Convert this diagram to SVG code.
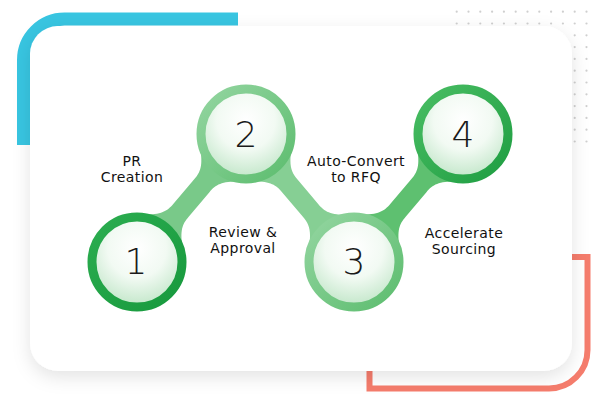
<svg xmlns="http://www.w3.org/2000/svg" width="602" height="405" viewBox="0 0 602 405">
<defs>
<style>
.lbl{font-family:"DejaVu Sans","Liberation Sans",sans-serif;font-size:14px;letter-spacing:0.4px;fill:#111;text-anchor:middle}
.num{font-family:"DejaVu Sans","Liberation Sans",sans-serif;font-weight:200;font-size:36px;fill:#1a1a1a;text-anchor:middle}
.dot{fill:#cfcfcf}
</style>
<filter id="sh" x="-10%" y="-10%" width="120%" height="125%">
<feDropShadow dx="0" dy="6" stdDeviation="9" flood-color="#000" flood-opacity="0.11"/>
</filter>
<radialGradient id="inner" cx="50%" cy="35%" r="65%">
<stop offset="0" stop-color="#ffffff"/>
<stop offset="0.5" stop-color="#f2faf3"/>
<stop offset="1" stop-color="#c1e6c8"/>
</radialGradient>
<linearGradient id="r1" x1="0" y1="0" x2="1" y2="1">
<stop offset="0" stop-color="#2cad50"/><stop offset="1" stop-color="#17993d"/>
</linearGradient>
<linearGradient id="r2" x1="0" y1="0" x2="1" y2="1">
<stop offset="0" stop-color="#93d5a0"/><stop offset="1" stop-color="#5dbd6f"/>
</linearGradient>
<linearGradient id="r4" x1="0" y1="0" x2="1" y2="1">
<stop offset="0" stop-color="#49bd63"/><stop offset="1" stop-color="#1f9e42"/>
</linearGradient>
<path id="conn" d="M40,26 C52,12 58,10 68,10 L100,10 C110,10 116,12 128,26 L128,-26 C116,-12 110,-10 100,-10 L68,-10 C58,-10 52,-12 40,-26 Z"/>
</defs>

<g id="background">
<g id="dots">
<g id="dotrow">
<circle class="dot" cx="456.7" cy="11.7" r="1.1"/><circle class="dot" cx="468.5" cy="11.7" r="1.1"/><circle class="dot" cx="480.3" cy="11.7" r="1.1"/><circle class="dot" cx="492.1" cy="11.7" r="1.1"/><circle class="dot" cx="503.9" cy="11.7" r="1.1"/><circle class="dot" cx="515.7" cy="11.7" r="1.1"/><circle class="dot" cx="527.5" cy="11.7" r="1.1"/><circle class="dot" cx="539.3" cy="11.7" r="1.1"/><circle class="dot" cx="551.1" cy="11.7" r="1.1"/><circle class="dot" cx="562.9" cy="11.7" r="1.1"/><circle class="dot" cx="574.7" cy="11.7" r="1.1"/><circle class="dot" cx="586.5" cy="11.7" r="1.1"/>
</g>
<use href="#dotrow" y="11.8"/><use href="#dotrow" y="23.6"/><use href="#dotrow" y="35.4"/><use href="#dotrow" y="47.2"/><use href="#dotrow" y="59"/><use href="#dotrow" y="70.8"/><use href="#dotrow" y="82.6"/><use href="#dotrow" y="94.4"/><use href="#dotrow" y="106.2"/><use href="#dotrow" y="118"/><use href="#dotrow" y="129.8"/>
</g>
<path id="blue-corner" d="M23.5,145 V60 A41,41 0 0 1 64.5,19 H238" fill="none" stroke="#38c5e1" stroke-width="13"/>
<path id="red-corner" d="M570,257 H587.5 V350 A38.5,38.5 0 0 1 549,388.5 H369.5 V368" fill="none" stroke="#f57c6c" stroke-width="6"/>
<rect id="card" x="30" y="26" width="542" height="345" rx="28" fill="#ffffff" filter="url(#sh)"/>
</g>

<g id="connectors">
<use href="#conn" transform="translate(137,262) rotate(-49.6)" fill="#79c989"/>
<use href="#conn" transform="translate(246,134) rotate(49.8)" fill="#86cf94"/>
<use href="#conn" transform="translate(354,262) rotate(-49.6)" fill="#5ec070"/>
</g>

<g id="node1">
<circle cx="137" cy="262" r="45" fill="url(#inner)" stroke="url(#r1)" stroke-width="9"/>
<text class="num" x="136" y="274">1</text>
</g>
<g id="node2">
<circle cx="246" cy="134" r="45" fill="url(#inner)" stroke="url(#r2)" stroke-width="9"/>
<text class="num" x="246" y="147">2</text>
</g>
<g id="node3">
<circle cx="354" cy="262" r="45" fill="url(#inner)" stroke="url(#r2)" stroke-width="9"/>
<text class="num" x="354" y="274">3</text>
</g>
<g id="node4">
<circle cx="463" cy="134" r="45" fill="url(#inner)" stroke="url(#r4)" stroke-width="9"/>
<text class="num" x="463" y="147">4</text>
</g>

<g id="labels">
<text class="lbl" x="132" y="165.5">PR</text>
<text class="lbl" x="132" y="181.5">Creation</text>
<text class="lbl" x="243" y="236.5">Review &amp;</text>
<text class="lbl" x="243" y="252.5">Approval</text>
<text class="lbl" x="356" y="166">Auto-Convert</text>
<text class="lbl" x="356" y="182">to RFQ</text>
<text class="lbl" x="464" y="237.5">Accelerate</text>
<text class="lbl" x="464" y="253.5">Sourcing</text>
</g>
</svg>
